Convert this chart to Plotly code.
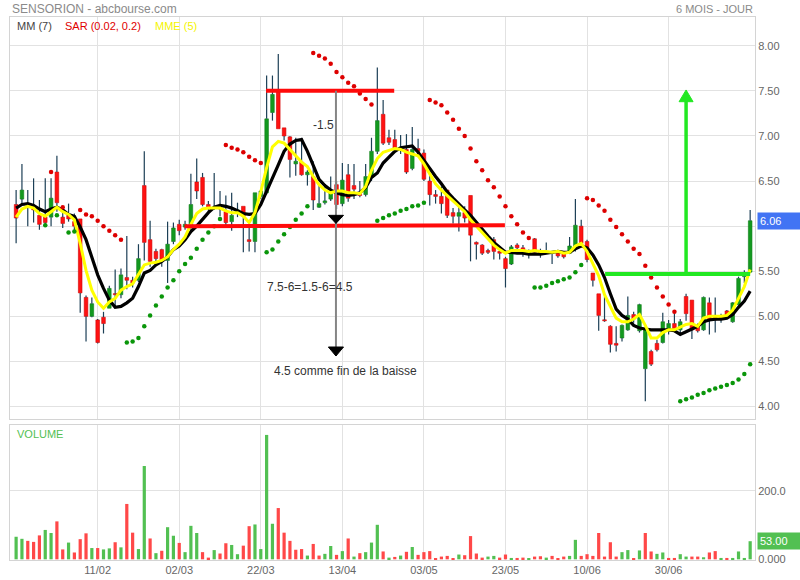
import plotly.graph_objects as go

# ---------------- data ----------------
tick_labels = ["11/02", "02/03", "22/03", "13/04", "03/05", "23/05", "10/06", "30/06"]

opens = [6.24, 6.30, 6.22, 6.22, 6.12, 6.10, 6.10, 6.60, 6.10, 6.12,
         6.05, 6.08, 5.21, 5.00, 4.96, 4.99, 5.09, 5.25, 5.24, 5.43,
         5.40, 5.40, 6.45, 5.85, 5.72, 5.74, 5.62, 5.83, 6.02, 5.99,
         6.01, 6.49, 6.54, 6.24, 6.20, 6.21, 6.16, 6.05, 6.16, 6.22,
         5.85, 5.83, 6.33, 6.37, 7.26, 7.51, 7.09, 6.99, 6.69, 6.71,
         6.57, 6.55, 6.21, 6.26, 6.30, 6.46, 6.25, 6.57, 6.45, 6.35,
         6.35, 6.54, 6.83, 7.24, 6.98, 6.96, 6.86, 6.85, 6.64, 6.86,
         6.81, 6.50, 6.35, 6.33, 6.40, 6.15, 6.11, 6.15, 6.34, 5.82,
         5.79, 5.73, 5.85, 5.72, 5.64, 5.58, 5.79, 5.76, 5.70, 5.86,
         5.70, 5.70, 5.71, 5.72, 5.70, 5.70, 5.76, 6.00, 5.83, 5.48,
         5.25, 4.96, 4.89, 4.70, 4.76, 4.85, 5.02, 4.84, 4.42, 4.61,
         4.70, 4.71, 4.85, 4.92, 4.85, 5.22, 5.18, 4.89, 4.85, 5.15,
         5.01, 5.00, 5.06, 4.94, 5.13, 5.44, 5.49]

highs = [6.40, 6.69, 6.40, 6.53, 6.29, 6.53, 6.53, 6.78, 6.15, 6.25,
         6.14, 6.08, 5.23, 5.21, 4.97, 5.05, 5.34, 5.52, 5.53, 5.89,
         5.44, 5.80, 6.83, 6.06, 5.75, 5.75, 6.05, 6.04, 6.07, 6.06,
         6.58, 6.75, 6.59, 6.28, 6.59, 6.39, 6.34, 6.37, 6.26, 6.22,
         6.03, 6.37, 6.40, 7.67, 7.67, 7.91, 7.09, 7.00, 6.98, 6.98,
         6.62, 6.72, 6.45, 6.45, 6.55, 6.50, 6.70, 6.69, 6.69, 6.50,
         6.69, 6.98, 7.76, 7.40, 7.07, 7.07, 7.01, 7.02, 7.10, 6.97,
         6.85, 6.62, 6.40, 6.44, 6.40, 6.20, 6.24, 6.22, 6.34, 5.83,
         5.80, 5.75, 5.88, 5.77, 5.66, 5.79, 5.81, 5.79, 5.74, 5.87,
         5.75, 5.82, 5.72, 5.72, 5.72, 5.88, 6.30, 6.07, 5.85, 5.48,
         5.25, 5.22, 4.90, 4.89, 4.91, 5.22, 5.05, 5.14, 4.86, 4.63,
         4.74, 5.04, 4.96, 5.04, 4.97, 5.25, 5.18, 4.92, 5.22, 5.21,
         5.21, 5.03, 5.07, 5.16, 5.44, 5.51, 6.18]

lows = [5.81, 6.24, 6.00, 6.04, 5.96, 6.00, 6.00, 6.16, 5.98, 6.05,
        5.95, 5.04, 4.72, 4.99, 4.70, 4.81, 5.09, 5.10, 5.20, 5.30,
        5.32, 5.38, 5.62, 5.55, 5.60, 5.55, 5.37, 5.80, 5.90, 5.96,
        5.95, 6.30, 6.22, 6.15, 6.18, 6.11, 6.00, 5.95, 6.10, 5.71,
        5.72, 5.71, 6.30, 6.35, 7.17, 7.08, 6.95, 6.54, 6.56, 6.56,
        6.45, 6.18, 6.20, 6.24, 6.28, 6.19, 6.22, 6.27, 6.30, 6.32,
        6.33, 6.50, 6.80, 6.90, 6.90, 6.82, 6.80, 6.58, 6.62, 6.78,
        6.50, 6.23, 6.25, 6.14, 6.09, 6.03, 5.94, 6.04, 5.61, 5.63,
        5.68, 5.69, 5.63, 5.63, 5.32, 5.57, 5.73, 5.66, 5.64, 5.70,
        5.65, 5.69, 5.58, 5.65, 5.64, 5.69, 5.72, 5.79, 5.60, 5.33,
        4.84, 4.94, 4.60, 4.61, 4.72, 4.84, 4.93, 4.82, 4.06, 4.45,
        4.61, 4.70, 4.80, 4.84, 4.80, 4.95, 4.75, 4.82, 4.84, 4.80,
        4.82, 4.93, 4.98, 4.93, 5.12, 5.37, 5.48]

closes = [6.09, 6.40, 6.21, 6.18, 6.02, 6.04, 6.31, 6.26, 6.03, 6.08,
          6.00, 5.26, 5.00, 5.14, 4.71, 4.92, 5.31, 5.24, 5.46, 5.40,
          5.37, 5.64, 5.82, 5.61, 5.64, 5.62, 5.80, 5.98, 5.95, 6.02,
          6.24, 6.39, 6.24, 6.20, 6.21, 6.19, 6.04, 6.12, 6.18, 6.11,
          5.83, 6.37, 6.39, 7.19, 7.46, 7.08, 7.00, 6.74, 6.72, 6.57,
          6.60, 6.29, 6.25, 6.28, 6.37, 6.24, 6.51, 6.31, 6.41, 6.34,
          6.55, 6.83, 7.17, 6.92, 6.93, 6.85, 6.87, 6.60, 6.85, 6.83,
          6.52, 6.35, 6.33, 6.25, 6.12, 6.11, 6.15, 6.09, 5.90, 5.80,
          5.70, 5.71, 5.72, 5.70, 5.53, 5.77, 5.76, 5.70, 5.72, 5.71,
          5.70, 5.71, 5.70, 5.67, 5.66, 5.78, 6.01, 5.81, 5.63, 5.40,
          5.01, 4.95, 4.69, 4.68, 4.90, 5.01, 4.97, 5.13, 4.86, 4.47,
          4.63, 4.94, 4.92, 4.86, 4.94, 5.03, 4.85, 4.84, 5.21, 4.97,
          4.96, 4.97, 5.01, 5.15, 5.42, 5.48, 6.06]

volumes = [66, 60, 54, 51, 70, 86, 77, 111, 29, 49,
           20, 59, 76, 33, 33, 29, 32, 50, 35, 162,
           78, 30, 273, 61, 18, 25, 94, 69, 48, 21,
           98, 77, 21, 5, 27, 17, 47, 42, 15, 40,
           97, 102, 30, 364, 104, 150, 78, 54, 28, 30,
           11, 45, 11, 16, 39, 13, 24, 61, 8, 18,
           21, 49, 101, 23, 5, 7, 11, 22, 36, 13,
           21, 24, 2, 8, 10, 2, 14, 12, 68, 17,
           5, 8, 10, 5, 14, 4, 4, 5, 2, 8,
           9, 5, 10, 2, 8, 10, 57, 10, 15, 10,
           77, 8, 50, 8, 21, 27, 3, 26, 77, 23,
           16, 20, 4, 4, 15, 8, 8, 8, 6, 20,
           24, 4, 4, 4, 23, 4, 53]

# 1 = volume bar drawn green (up day), 0 = red
vol_up = [1, 1, 0, 0, 0, 1, 1, 0, 0, 1,
          0, 0, 0, 1, 0, 1, 1, 0, 1, 0,
          0, 1, 1, 0, 1, 0, 1, 1, 0, 1,
          1, 1, 0, 0, 1, 0, 0, 1, 1, 0,
          0, 1, 1, 1, 1, 0, 0, 0, 0, 0,
          1, 0, 0, 1, 1, 0, 1, 0, 1, 0,
          1, 1, 1, 0, 1, 0, 1, 0, 1, 0,
          0, 0, 0, 0, 0, 0, 1, 0, 0, 0,
          0, 1, 1, 0, 0, 1, 0, 0, 1, 0,
          0, 1, 0, 0, 0, 1, 1, 0, 0, 0,
          0, 0, 0, 0, 1, 1, 0, 1, 0, 0,
          1, 1, 0, 0, 1, 1, 0, 0, 1, 0,
          0, 1, 0, 1, 1, 1, 1]

mm7 = [6.20, 6.24, 6.25, 6.23, 6.19, 6.16, 6.19, 6.21, 6.18, 6.13,
       6.11, 5.99, 5.85, 5.66, 5.46, 5.31, 5.18, 5.10, 5.11, 5.15,
       5.20, 5.33, 5.48, 5.51, 5.57, 5.61, 5.66, 5.74, 5.78, 5.85,
       5.94, 6.00, 6.08, 6.15, 6.21, 6.23, 6.22, 6.20, 6.17, 6.14,
       6.13, 6.14, 6.24, 6.38, 6.52, 6.68, 6.83, 6.91, 6.95, 6.96,
       6.83, 6.67, 6.52, 6.45, 6.40, 6.37, 6.35, 6.34, 6.35, 6.37,
       6.43, 6.54, 6.59, 6.70, 6.77, 6.83, 6.87, 6.88, 6.89, 6.82,
       6.73, 6.63, 6.55, 6.47, 6.38, 6.31, 6.24, 6.18, 6.12, 6.04,
       5.97, 5.89, 5.82, 5.76, 5.71, 5.71, 5.70, 5.70, 5.69, 5.69,
       5.69, 5.70, 5.71, 5.72, 5.71, 5.71, 5.75, 5.78, 5.76, 5.68,
       5.57, 5.43, 5.25, 5.08, 5.01, 4.97, 4.90, 4.87, 4.86, 4.85,
       4.85, 4.85, 4.85, 4.84, 4.80, 4.83, 4.86, 4.89, 4.94, 4.96,
       4.97, 4.97, 4.98, 5.02, 5.10, 5.17, 5.28]

mme5 = [6.10, 6.19, 6.22, 6.20, 6.14, 6.11, 6.16, 6.21, 6.16, 6.13,
        6.07, 5.81, 5.51, 5.29, 5.16, 5.09, 5.16, 5.20, 5.29, 5.33,
        5.36, 5.46, 5.57, 5.59, 5.60, 5.62, 5.66, 5.74, 5.80, 5.88,
        6.02, 6.14, 6.19, 6.20, 6.20, 6.20, 6.17, 6.15, 6.15, 6.11,
        6.04, 6.15, 6.38, 6.65, 6.88, 6.94, 6.92, 6.85, 6.78, 6.71,
        6.66, 6.55, 6.46, 6.40, 6.37, 6.39, 6.39, 6.37, 6.37, 6.36,
        6.44, 6.62, 6.75, 6.82, 6.84, 6.86, 6.85, 6.82, 6.80, 6.78,
        6.69, 6.58, 6.47, 6.40, 6.34, 6.27, 6.21, 6.16, 6.07, 6.00,
        5.92, 5.85, 5.79, 5.74, 5.70, 5.73, 5.73, 5.73, 5.72, 5.73,
        5.72, 5.72, 5.71, 5.72, 5.70, 5.71, 5.78, 5.81, 5.72, 5.58,
        5.45, 5.24, 5.10, 4.98, 4.94, 4.94, 4.97, 5.02, 4.90, 4.76,
        4.76, 4.82, 4.85, 4.85, 4.88, 4.91, 4.92, 4.89, 4.98, 5.00,
        5.00, 5.00, 5.01, 5.07, 5.20, 5.33, 5.52]

N = None
# parabolic SAR dots above price (red) and below price (green)
sar_above = [N, N, N, N, N, N, 6.60, N, 6.21, N,
             N, 6.18, 6.13, 6.11, 6.06, 6.00, 5.95, 5.90, 5.85, N,
             N, N, N, N, N, N, N, N, N, N,
             N, N, N, N, N, N, 6.90, 6.87, 6.85, 6.82,
             6.77, 6.73, 6.70, N, N, N, N, N, N, N,
             N, 7.92, 7.89, 7.86, 7.80, 7.71, 7.65, 7.59, 7.55, 7.47,
             7.41, 7.35, N, N, N, N, N, N, N, N,
             N, 7.40, 7.37, 7.34, 7.26, 7.18, 7.08, 7.00, 6.86, 6.72,
             6.62, 6.51, 6.43, 6.33, 6.22, 6.11, 6.02, 5.93, 5.87, N,
             N, N, N, N, N, N, N, N, 6.31, 6.29,
             6.23, 6.17, 6.07, 5.99, 5.91, 5.83, 5.75, 5.69, 5.56, 5.43,
             5.32, 5.22, 5.13, 5.05, N, N, N, N, N, N,
             N, N, N, N, N, N, N]

sar_below = [N, N, N, N, N, 6.01, N, 6.12, N, 5.93,
             5.94, N, N, N, N, N, N, N, N, 4.71,
             4.72, 4.76, 4.89, 5.01, 5.12, 5.22, 5.32, 5.40, 5.50, 5.58,
             5.65, 5.75, 5.85, 5.93, 6.00, 6.08, N, N, N, N,
             N, N, N, 5.71, 5.74, 5.83, 5.91, 5.99, 6.07, 6.14,
             6.22, N, N, N, N, N, N, N, N, N,
             N, N, 6.06, 6.09, 6.12, 6.14, 6.17, 6.19, 6.22, 6.23,
             6.26, N, N, N, N, N, N, N, N, N,
             N, N, N, N, N, N, N, N, N, 5.32,
             5.32, 5.34, 5.37, 5.39, 5.41, 5.43, 5.49, 5.57, N, N,
             N, N, N, N, N, N, N, N, N, N,
             N, N, N, N, 4.06, 4.08, 4.10, 4.13, 4.15, 4.18,
             4.20, 4.22, 4.24, 4.26, 4.30, 4.36, 4.47]

last_price = closes[-1]
last_volume = volumes[-1]

# hand-drawn analysis on the chart (price levels / candle positions)
resist_level, resist_from, resist_to = 7.50, 42.9, 64.9
support_from, support_to, support_y0, support_y1 = 28.9, 83.9, 6.00, 6.01
proj_x, proj_top, proj_tip1, proj_tip2 = 54.9, 7.50, 6.03, 4.56
neck_level, neck_from, neck_to = 5.47, 101.1, 126.0
up_x, up_tip = 115.0, 7.51

# ---------------- styling ----------------
FONT = "Liberation Sans, Arial, sans-serif"
GREEN_BODY, GREEN_EDGE = "#13991f", "#0e7d18"
RED_BODY, RED_EDGE = "#ff1212", "#d00000"
WICK = "#1c3f56"
VOL_G, VOL_R = "#52c052", "#ff4848"
GRID = "#e2e2e2"
FRAME = "#d4d4d4"

n = len(closes)
idx = list(range(n))

# wicks (outside bodies)
wx, wy = [], []
for i, (o, h, l, c) in enumerate(zip(opens, highs, lows, closes)):
    top, bot = max(o, c), min(o, c)
    if h > top:
        wx += [i, i, None]; wy += [h, top, None]
    if l < bot:
        wx += [i, i, None]; wy += [bot, l, None]

ux, ub, uh, dx_, db, dh = [], [], [], [], [], []
for i, (o, c) in enumerate(zip(opens, closes)):
    hgt = max(abs(c - o), 0.012)
    if c > o:
        ux.append(i); ub.append(o); uh.append(hgt)
    else:
        dx_.append(i); db.append(min(o, c)); dh.append(hgt)

fig = go.Figure()
fig.add_trace(go.Bar(x=ux, y=uh, base=ub, width=0.62, xaxis="x", yaxis="y",
                     marker=dict(color=GREEN_BODY, line=dict(color=GREEN_EDGE, width=0.6))))
fig.add_trace(go.Bar(x=dx_, y=dh, base=db, width=0.62, xaxis="x", yaxis="y",
                     marker=dict(color=RED_BODY, line=dict(color=RED_EDGE, width=0.6))))
fig.add_trace(go.Scatter(x=wx, y=wy, mode="lines", line=dict(color=WICK, width=1.2),
                         xaxis="x", yaxis="y", connectgaps=False))
fig.add_trace(go.Scatter(x=idx, y=mm7, mode="lines", line=dict(color="#000000", width=3.2),
                         xaxis="x", yaxis="y"))
fig.add_trace(go.Scatter(x=idx, y=mme5, mode="lines", line=dict(color="#ffff00", width=3),
                         xaxis="x", yaxis="y"))
fig.add_trace(go.Scatter(x=idx, y=sar_above, mode="markers",
                         marker=dict(color="#dd0000", size=4.5), xaxis="x", yaxis="y"))
fig.add_trace(go.Scatter(x=idx, y=sar_below, mode="markers",
                         marker=dict(color="#0a960a", size=4.5), xaxis="x", yaxis="y"))

# volume
fig.add_trace(go.Bar(x=idx, y=volumes, width=0.55, xaxis="x2", yaxis="y2",
                     marker=dict(color=[VOL_G if u else VOL_R for u in vol_up], line=dict(width=0))))

tickpos = [14 * (k + 1) for k in range(len(tick_labels))]
xr = [-1.05, 126.83]
price_ticks = [4 + 0.5 * k for k in range(9)]
# the 6.00 label is hidden under the last-price box in the reference
price_text = ["" if abs(v - 6.0) < 1e-9 else "%.2f" % v for v in price_ticks]

axis_common = dict(showgrid=True, gridcolor=GRID, zeroline=False, showline=True, mirror=True,
                   linecolor=FRAME, ticks="", automargin=False,
                   tickfont=dict(size=11, color="#666666"))

fig.update_layout(
    width=800, height=580, autosize=False,
    margin=dict(l=10, r=45, t=17, b=20, autoexpand=False),
    paper_bgcolor="white", plot_bgcolor="white",
    showlegend=False, barmode="overlay", hovermode=False,
    font=dict(family=FONT, size=11, color="#666666"),
    xaxis=dict(domain=[0, 1], range=xr, anchor="y", tickvals=tickpos, showticklabels=False,
               **axis_common),
    yaxis=dict(domain=[0.2597, 1], range=[3.862, 8.319], side="right", anchor="x",
               tickvals=price_ticks, ticktext=price_text, **axis_common),
    xaxis2=dict(domain=[0, 1], range=xr, anchor="y2", tickvals=tickpos, ticktext=tick_labels,
                **axis_common),
    yaxis2=dict(domain=[0, 0.2486], range=[-2, 393], side="right", anchor="x2",
                tickvals=[0, 200], ticktext=["0.000", "200.0"], **axis_common),
)

RED_LINE = "#ff0a0a"
GREEN_LINE = "#22e822"
shapes = [
    dict(type="line", xref="x", yref="y", x0=resist_from, x1=resist_to, y0=resist_level, y1=resist_level,
         line=dict(color=RED_LINE, width=4)),
    dict(type="line", xref="x", yref="y", x0=support_from, x1=support_to, y0=support_y0, y1=support_y1,
         line=dict(color=RED_LINE, width=4)),
    dict(type="line", xref="x", yref="y", x0=proj_x, x1=proj_x, y0=proj_top, y1=proj_tip2,
         line=dict(color="#858585", width=2)),
    dict(type="path", xref="x", yref="y",
         path=f"M {proj_x-1.3},{proj_tip1+0.09} L {proj_x+1.3},{proj_tip1+0.09} L {proj_x},{proj_tip1} Z",
         fillcolor="#000000", line=dict(color="#000000", width=1)),
    dict(type="path", xref="x", yref="y",
         path=f"M {proj_x-1.3},{proj_tip2+0.1} L {proj_x+1.3},{proj_tip2+0.1} L {proj_x},{proj_tip2} Z",
         fillcolor="#000000", line=dict(color="#000000", width=1)),
    dict(type="line", xref="x", yref="y", x0=neck_from, x1=neck_to, y0=neck_level, y1=neck_level,
         line=dict(color=GREEN_LINE, width=4)),
    dict(type="line", xref="x", yref="y", x0=up_x, x1=up_x, y0=neck_level, y1=up_tip - 0.1,
         line=dict(color=GREEN_LINE, width=3.5)),
    dict(type="path", xref="x", yref="y",
         path=f"M {up_x-1.2},{up_tip-0.13} L {up_x+1.2},{up_tip-0.13} L {up_x},{up_tip} Z",
         fillcolor=GREEN_LINE, line=dict(color=GREEN_LINE, width=1)),
]
fig.update_layout(shapes=shapes)

TXT = "#333333"
ann = [
    dict(text="SENSORION - abcbourse.com", xref="paper", yref="paper", x=0, y=(560 - 9) / 543,
         xanchor="left", yanchor="middle", showarrow=False, font=dict(size=12, color="#8a8a8a")),
    dict(text="6 MOIS - JOUR", xref="paper", yref="paper", x=1, y=(560 - 9) / 543,
         xanchor="right", yanchor="middle", showarrow=False, font=dict(size=11, color="#8a8a8a")),
    dict(text="MM (7)", xref="paper", yref="paper", x=5 / 745, y=(560 - 26) / 543,
         xanchor="left", yanchor="middle", showarrow=False, font=dict(size=11, color="#444444")),
    dict(text="SAR (0.02, 0.2)", xref="paper", yref="paper", x=53 / 745, y=(560 - 26) / 543,
         xanchor="left", yanchor="middle", showarrow=False, font=dict(size=11, color="#e00000")),
    dict(text="MME (5)", xref="paper", yref="paper", x=143 / 745, y=(560 - 26) / 543,
         xanchor="left", yanchor="middle", showarrow=False, font=dict(size=11, color="#f4f400")),
    dict(text="VOLUME", xref="paper", yref="paper", x=5 / 745, y=(560 - 434) / 543,
         xanchor="left", yanchor="middle", showarrow=False, font=dict(size=11, color="#52c052")),
    dict(text="-1.5", xref="x", yref="y", x=52.7, y=7.12, showarrow=False,
         font=dict(size=12, color=TXT)),
    dict(text="7.5-6=1.5-6=4.5", xref="x", yref="y", x=50.4, y=5.33, showarrow=False,
         font=dict(size=12, color=TXT)),
    dict(text="4.5 comme fin de la baisse", xref="x", yref="y", x=56.6, y=4.39, showarrow=False,
         font=dict(size=12, color=TXT)),
    dict(text="%.2f" % last_price, xref="paper", yref="y", x=1.003, y=last_price,
         xanchor="left", yanchor="middle", showarrow=False, align="left", width=38,
         bgcolor="#4274f4", font=dict(size=11, color="white"), borderpad=2),
    dict(text="%.2f" % last_volume, xref="paper", yref="y2", x=1.003, y=last_volume,
         xanchor="left", yanchor="middle", showarrow=False, align="left", width=38,
         bgcolor="#52c052", font=dict(size=11, color="white"), borderpad=2),
]
fig.update_layout(annotations=ann)

fig.write_html("out.html", config={"displayModeBar": False, "responsive": False},
               post_script="document.body.style.margin='0';document.body.style.overflow='hidden';")
